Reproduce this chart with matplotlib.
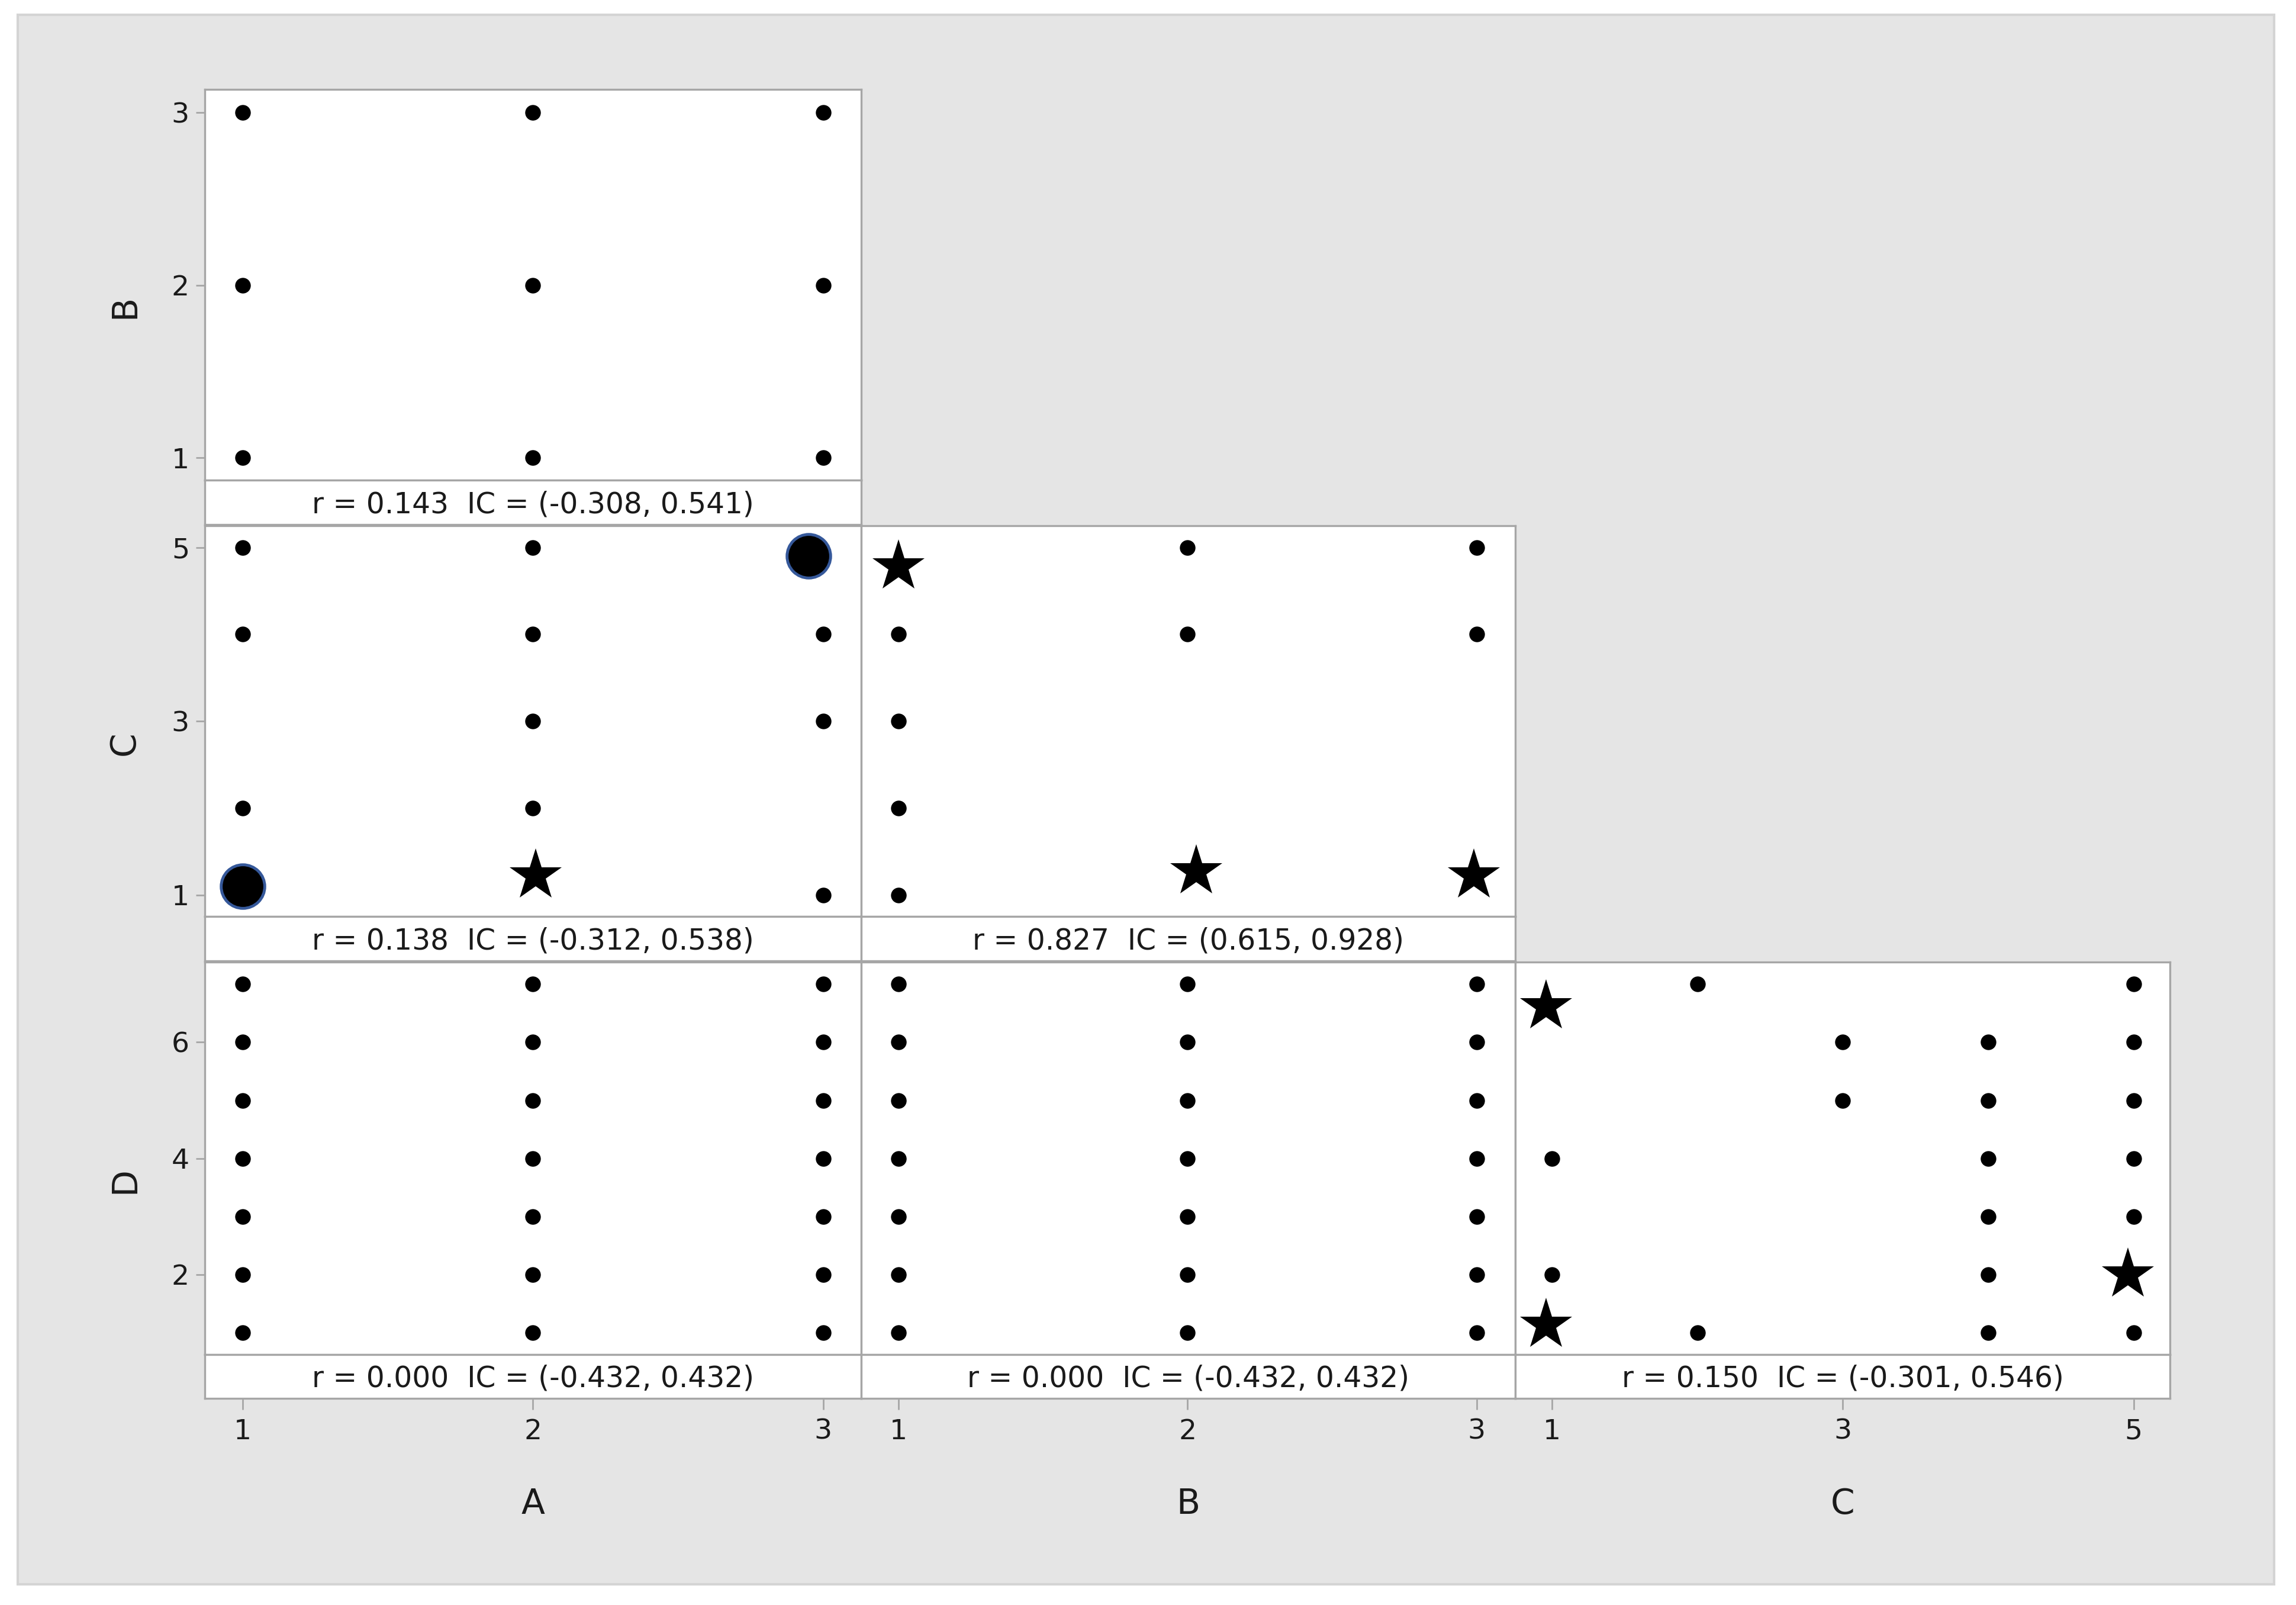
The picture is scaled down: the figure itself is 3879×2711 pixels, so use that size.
import matplotlib.pyplot as plt
from matplotlib.patches import Rectangle

# ---- data ----
var_names = ["A", "B", "C", "D"]

# A (x) vs B (y)
ab_x = [1, 1, 1, 2, 2, 2, 3, 3, 3]
ab_y = [1, 2, 3, 1, 2, 3, 1, 2, 3]

# A (x) vs C (y)
ac_x = [1, 1, 1, 2, 2, 2, 2, 3, 3, 3]
ac_y = [5, 4, 2, 5, 4, 3, 2, 4, 3, 1]
ac_circle_x = [1.0, 2.95]
ac_circle_y = [1.1, 4.9]
ac_star_x = [2.01]
ac_star_y = [1.22]

# B (x) vs C (y)
bc_x = [1, 1, 1, 1, 2, 2, 3, 3]
bc_y = [4, 3, 2, 1, 5, 4, 5, 4]
bc_star_x = [1.0, 2.03, 2.99]
bc_star_y = [4.78, 1.27, 1.22]

# A (x) vs D (y)
ad_x = [1, 1, 1, 1, 1, 1, 1, 2, 2, 2, 2, 2, 2, 2, 3, 3, 3, 3, 3, 3, 3]
ad_y = [1, 2, 3, 4, 5, 6, 7, 1, 2, 3, 4, 5, 6, 7, 1, 2, 3, 4, 5, 6, 7]

# B (x) vs D (y)
bd_x = [1, 1, 1, 1, 1, 1, 1, 2, 2, 2, 2, 2, 2, 2, 3, 3, 3, 3, 3, 3, 3]
bd_y = [1, 2, 3, 4, 5, 6, 7, 1, 2, 3, 4, 5, 6, 7, 1, 2, 3, 4, 5, 6, 7]

# C (x) vs D (y)
cd_x = [1, 1, 2, 2, 3, 3, 4, 4, 4, 4, 4, 4, 5, 5, 5, 5, 5, 5]
cd_y = [4, 2, 7, 1, 6, 5, 6, 5, 4, 3, 2, 1, 7, 6, 5, 4, 3, 1]
cd_star_x = [0.96, 0.96, 4.96]
cd_star_y = [6.62, 1.13, 2.0]

# correlation and interval shown under each panel
corr_r = [0.143, 0.138, 0.827, 0.000, 0.000, 0.150]
corr_lo = [-0.308, -0.312, 0.615, -0.432, -0.432, -0.301]
corr_hi = [0.541, 0.538, 0.928, 0.432, 0.432, 0.546]

# ticks per variable
var_ticks = {"A": [1, 2, 3], "B": [1, 2, 3], "C": [1, 3, 5], "D": [2, 4, 6]}

# ---- layout (in pixels of a 1568 x 1096 frame) ----
W, H = 1568.0, 1096.0
col_edges = [140, 588, 1035, 1482]
row_tops = [61, 359, 657]
row_bottoms = [328, 626, 925]
band_h = 30
var_lims = {"A": (0.87, 3.13), "B": (0.87, 3.135), "C": (0.75, 5.25), "D": (0.62, 7.38)}

SPINE = "#a6a6a6"
TXT = "#1a1a1a"


def px_rect(x0, y0, x1, y1):
    return [x0 / W, 1 - y1 / H, (x1 - x0) / W, (y1 - y0) / H]


def style_box(ax):
    ax.set_facecolor("white")
    for s in ax.spines.values():
        s.set_color(SPINE)
        s.set_linewidth(2.4)
    ax.tick_params(which="both", length=0, labelleft=False, labelbottom=False)


fig = plt.figure(figsize=(38.79, 27.11), dpi=100)
fig.patch.set_facecolor("white")
fig.patches.append(Rectangle((12 / W, 1 - 1082 / H), (1553 - 12) / W, (1082 - 10) / H,
                             transform=fig.transFigure, facecolor="#e5e5e5",
                             edgecolor="#d4d4d4", linewidth=3, zorder=-5))

# (row, col, x, y, stars, circles)
panels = [
    (0, 0, ab_x, ab_y, None, None),
    (1, 0, ac_x, ac_y, (ac_star_x, ac_star_y), (ac_circle_x, ac_circle_y)),
    (1, 1, bc_x, bc_y, (bc_star_x, bc_star_y), None),
    (2, 0, ad_x, ad_y, None, None),
    (2, 1, bd_x, bd_y, None, None),
    (2, 2, cd_x, cd_y, (cd_star_x, cd_star_y), None),
]

for k, (row, col, xs, ys, stars, circles) in enumerate(panels):
    xv = var_names[col]
    yv = var_names[row + 1]
    x0, x1 = col_edges[col], col_edges[col + 1]
    top, bot = row_tops[row], row_bottoms[row]

    ax = fig.add_axes(px_rect(x0, top, x1, bot))
    style_box(ax)
    ax.plot(xs, ys, "o", color="black", ms=19, mew=0)
    if circles is not None:
        ax.plot(circles[0], circles[1], "o", mfc="black", mec="#35589a", mew=3.5, ms=53)
    if stars is not None:
        ax.plot(stars[0], stars[1], "*", color="black", ms=66, mew=0)
    ax.set_xlim(*var_lims[xv])
    ax.set_ylim(*var_lims[yv])

    # y axis only on the first column
    if col == 0:
        ax.set_yticks(var_ticks[yv])
        ax.tick_params(axis="y", length=11, width=2, color=SPINE, pad=8,
                       labelleft=True, labelsize=34, labelcolor=TXT)
        fig.text(85 / W, 1 - (top + bot + band_h) / 2 / H, yv, rotation=90,
                 ha="center", va="center", fontsize=42, color=TXT)
    else:
        ax.set_yticks([])

    # band with r and interval
    band = fig.add_axes(px_rect(x0, bot, x1, bot + band_h))
    style_box(band)
    band.set_xlim(*var_lims[xv])
    band.set_yticks([])
    label = "r = %.3f  IC = (%.3f, %.3f)" % (corr_r[k], corr_lo[k], corr_hi[k])
    band.text(0.5, 0.45, label, transform=band.transAxes, ha="center", va="center",
              fontsize=35, color=TXT)

    # x axis only on the bottom row
    if row == 2:
        band.set_xticks(var_ticks[xv])
        band.tick_params(axis="x", length=14, width=2, color=SPINE, pad=10,
                         labelbottom=True, labelsize=34, labelcolor=TXT)
        fig.text((x0 + x1) / 2 / W, 1 - 1027 / H, xv, ha="center", va="center",
                 fontsize=42, color=TXT)
    else:
        band.set_xticks([])

fig.savefig("out.png", dpi=100, facecolor="white")
